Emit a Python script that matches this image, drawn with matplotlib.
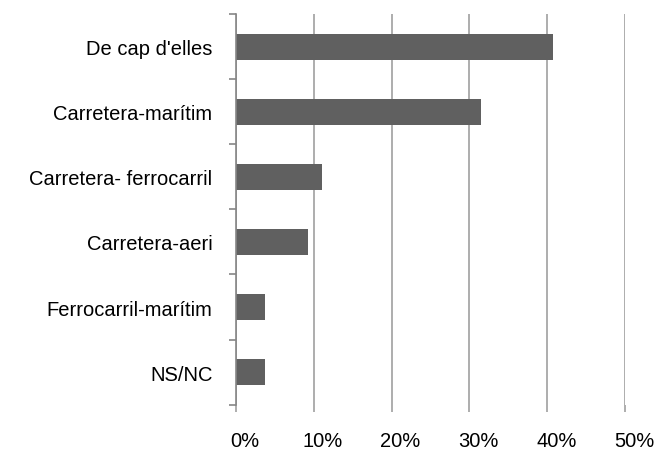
import matplotlib.pyplot as plt
import matplotlib.transforms as mtransforms
from matplotlib.ticker import FuncFormatter

# data
categories = ["De cap d'elles", "Carretera-marítim", "Carretera- ferrocarril",
              "Carretera-aeri", "Ferrocarril-marítim", "NS/NC"]
values = [40.7, 31.5, 11.1, 9.3, 3.7, 3.7]
xticks = [0, 10, 20, 30, 40, 50]

plt.rcParams['font.family'] = ['Liberation Sans', 'DejaVu Sans']

fig = plt.figure(figsize=(6.61, 4.52), dpi=100)
ax = fig.add_axes([236/661, 1 - 405.7/452, (625 - 236)/661, (405.7 - 15)/452])

ypos = list(range(len(categories)))
ax.barh(ypos, values, height=0.4, color="#606060", zorder=3)
ax.set_ylim(len(categories) - 0.5, -0.5)
ax.set_xlim(0, 50)

# category labels between boundary ticks
ax.set_yticks(ypos)
ax.set_yticklabels(categories, fontsize=14.5)
ax.tick_params(axis='y', which='major', length=0, pad=17)
ax.set_yticks([i - 0.5 for i in range(len(categories) + 1)], minor=True)
ax.tick_params(axis='y', which='minor', length=5, width=1.2, color="#868686")

ax.set_xticks(xticks)
ax.xaxis.set_major_formatter(FuncFormatter(lambda v, p: f"{v:.0f}%"))
ax.tick_params(axis='x', length=5, width=1.2, color="#a0a0a0", labelsize=14.5, pad=14)
shift = mtransforms.ScaledTranslation(0.09, 0, fig.dpi_scale_trans)
for lab in ax.get_xticklabels():
    lab.set_transform(lab.get_transform() + shift)

ax.grid(axis='x', color="#a0a0a0", linewidth=1.2, zorder=0)
for s in ['top', 'right', 'bottom']:
    ax.spines[s].set_visible(False)
ax.spines['left'].set_color("#868686")
ax.spines['left'].set_linewidth(1.2)
ax.spines['left'].set_zorder(4)

fig.savefig("out.png", dpi=100)
